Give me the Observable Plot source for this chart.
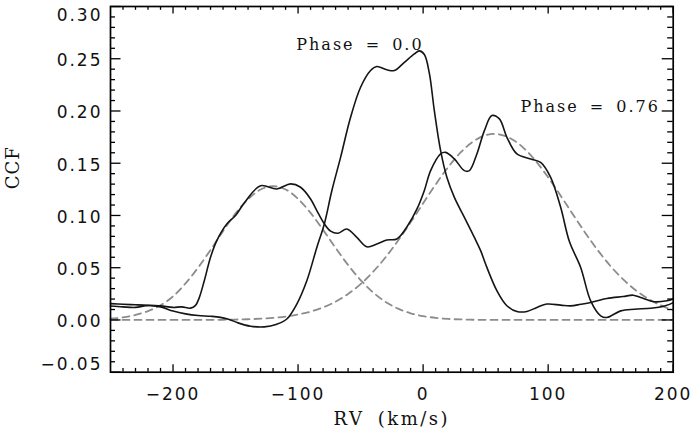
<!DOCTYPE html>
<html><head><meta charset="utf-8">
<script src="https://cdn.jsdelivr.net/npm/d3@7"></script>
<script src="https://cdn.jsdelivr.net/npm/@observablehq/plot@0.6"></script>
<style>body{margin:0;background:#fff}</style>
</head><body><div id="chart"></div>
<script>
// Phase = 0.0 CCF
const phase0RV = [-250,-240,-230,-220,-210,-200,-190,-180,-170,-162,-155,-148,-138,-127,-117,-109,-101,-93,-85,-79,-73,-66,-58,-50,-42,-37,-29,-23,-15,-7,-3,1,5,9,14,19,25,33,41,46,51,59,67,75,83,91,99,110,118,126,134,147,160,168,174,185,195,200];
const phase0CCF = [0.0156,0.0150,0.0145,0.0138,0.0125,0.0085,0.0058,0.0042,0.0035,0.0025,0.0005,-0.0028,-0.0060,-0.0066,-0.0040,0.0009,0.0152,0.0375,0.0694,0.0919,0.1237,0.1556,0.1940,0.2227,0.2387,0.2425,0.2394,0.2387,0.2466,0.2547,0.2575,0.2540,0.2360,0.2000,0.1620,0.1365,0.1173,0.0982,0.0790,0.0663,0.0503,0.0280,0.0136,0.0081,0.0081,0.0120,0.0152,0.0142,0.0135,0.0150,0.0167,0.0205,0.0224,0.0237,0.0215,0.0174,0.0183,0.0200];

// Phase = 0.76 CCF
const phase76RV = [-250,-240,-230,-220,-210,-200,-193,-186,-182,-179,-175,-170,-165,-157,-150,-143,-130,-117,-106,-98,-90,-85,-79,-74,-68,-61,-53,-45,-37,-29,-21,-13,-5,1,6,14,18,25,33,37,43,49,55,61,67,75,86,94,102,110,117,126,134,142,147,158,169,182,193,200];
const phase76CCF = [0.0134,0.0125,0.0120,0.0140,0.0135,0.0120,0.0125,0.0113,0.0140,0.0214,0.0375,0.0600,0.0759,0.0918,0.1000,0.1120,0.1285,0.1254,0.1302,0.1270,0.1158,0.1046,0.0920,0.0850,0.0830,0.0870,0.0790,0.0700,0.0727,0.0765,0.0775,0.0890,0.1060,0.1240,0.1429,0.1589,0.1604,0.1541,0.1429,0.1429,0.1589,0.1812,0.1956,0.1924,0.1748,0.1589,0.1541,0.1508,0.1365,0.1078,0.0750,0.0503,0.0183,0.0040,0.0024,0.0087,0.0103,0.0112,0.0134,0.0166];

// Dashed fitted components (read at every 10 km/s)
const fitRV = [-250,-240,-230,-220,-210,-200,-190,-180,-170,-160,-150,-140,-130,-120,-110,-100,-90,-80,-70,-60,-50,-40,-30,-20,-10,0,10,20,30,40,50,60,70,80,90,100,110,120,130,140,150,160,170,180,190,200];
const fitA = [0.0012,0.0025,0.0048,0.0085,0.0140,0.0225,0.0350,0.0500,0.0670,0.0850,0.1020,0.1155,0.1248,0.1280,0.1249,0.1159,0.1025,0.0862,0.0690,0.0526,0.0382,0.0264,0.0173,0.0108,0.0064,0.0037,0.0020,0.0010,0.0005,0.0002,0.0001,0,0,0,0,0,0,0,0,0,0,0,0,0,0,0];
const fitB = [0,0,0,0,0,0,0,0.0001,0.0001,0.0002,0.0004,0.0007,0.0012,0.0020,0.0032,0.0052,0.0080,0.0120,0.0175,0.0249,0.0343,0.0461,0.0600,0.0760,0.0934,0.1116,0.1296,0.1462,0.1603,0.1708,0.1768,0.1778,0.1737,0.1650,0.1522,0.1365,0.1189,0.1007,0.0828,0.0662,0.0514,0.0388,0.0284,0.0203,0.0140,0.0094];

// Ticks and labels
const xMajor = [-200,-100,0,100,200];
const xMinor = d3.range(-240, 200, 10).filter(v => v % 100 !== 0);
const yMajor = [-0.05,0,0.05,0.10,0.15,0.20,0.25,0.30];
const yMinor = d3.range(-4, 30).map(i => i/100).filter(v => Math.round(v*100) % 5 !== 0);
const labels = [{text: "Phase = 0.0", rv: 0.4, ccf: 0.2631}, {text: "Phase = 0.76", rv: 189.4, ccf: 0.2042}];

const W = 692, H = 432;
const mL = 110, mR = 19.3, mT = 6, mB = 60.3;
const plotW = W - mL - mR, plotH = H - mT - mB;

const toRows = (xs, ys) => xs.map((v, i) => ({rv: v, ccf: ys[i]}));
const s0 = toRows(phase0RV, phase0CCF);
const s76 = toRows(phase76RV, phase76CCF);
const fa = toRows(fitRV, fitA);
const fb = toRows(fitRV, fitB);

const tk = {stroke: "#000", strokeWidth: 1.3};
const fmtY = d3.format(".2f");
const fmtX = d3.format("d");

const chart = Plot.plot({
  width: W, height: H,
  marginLeft: mL, marginRight: mR, marginTop: mT, marginBottom: mB,
  x: {domain: [-250, 200], axis: null},
  y: {domain: [-0.05, 0.30], axis: null},
  style: {fontFamily: "DejaVu Sans", fontSize: "17px", color: "#111", background: "#fff"},
  marks: [
    Plot.line(fa, {x: "rv", y: "ccf", stroke: "#8c8c8c", strokeWidth: 1.8, strokeDasharray: "7,5", curve: "catmull-rom"}),
    Plot.line(fb, {x: "rv", y: "ccf", stroke: "#8c8c8c", strokeWidth: 1.8, strokeDasharray: "7,5", curve: "catmull-rom"}),
    Plot.line(s0, {x: "rv", y: "ccf", stroke: "#151515", strokeWidth: 1.6, curve: "catmull-rom"}),
    Plot.line(s76, {x: "rv", y: "ccf", stroke: "#151515", strokeWidth: 1.6, curve: "catmull-rom"}),
    Plot.ruleX(xMajor, {...tk, insetTop: plotH - 7.5}),
    Plot.ruleX(xMajor, {...tk, insetBottom: plotH - 7.5}),
    Plot.ruleX(xMinor, {...tk, insetTop: plotH - 3.8}),
    Plot.ruleX(xMinor, {...tk, insetBottom: plotH - 3.8}),
    Plot.ruleY(yMajor, {...tk, insetRight: plotW - 10.5}),
    Plot.ruleY(yMajor, {...tk, insetLeft: plotW - 11}),
    Plot.ruleY(yMinor, {...tk, insetRight: plotW - 5}),
    Plot.ruleY(yMinor, {...tk, insetLeft: plotW - 5.5}),
    Plot.frame({stroke: "#000", strokeWidth: 1.7}),
    Plot.axisX({ticks: xMajor, tickSize: 0, tickPadding: 16, tickFormat: fmtX, fontSize: 17, label: null}),
    Plot.axisY({ticks: yMajor.filter(v => v > -0.05 && v < 0.3), tickSize: 0, tickPadding: 8, dy: 2, tickFormat: fmtY, fontSize: 17, label: null}),
    Plot.axisY({ticks: [0.30], tickSize: 0, tickPadding: 8, dy: 9, tickFormat: fmtY, fontSize: 17, label: null}),
    Plot.axisY({ticks: [-0.05], tickSize: 0, tickPadding: 8, dy: -7.5, tickFormat: fmtY, fontSize: 17, label: null}),
    Plot.text(["RV (km/s)"], {frameAnchor: "bottom", dy: 47, lineAnchor: "middle", fontFamily: "DejaVu Serif", fontSize: 18, fill: "#111"}),
    Plot.text(["CCF"], {frameAnchor: "left", dx: -97, rotate: -90, lineAnchor: "middle", fontFamily: "DejaVu Serif", fontSize: 18, fill: "#111"}),
    Plot.text(labels, {x: "rv", y: "ccf", text: "text", textAnchor: "end", lineAnchor: "middle", fontFamily: "DejaVu Serif", fontSize: 16, fill: "#111"})
  ]
});
document.getElementById("chart").appendChild(chart);
chart.querySelectorAll("text").forEach(t => {
  const s = t.textContent;
  if (s.startsWith("Phase")) {
    t.style.letterSpacing = "2px"; t.style.wordSpacing = "4px";
  } else if (s === "RV (km/s)") {
    t.style.letterSpacing = "2.5px"; t.style.wordSpacing = "5px";
  } else if (s === "CCF") {
    t.style.letterSpacing = "1px";
  } else {
    t.style.letterSpacing = "2px";
  }
});
</script>
</body></html>
